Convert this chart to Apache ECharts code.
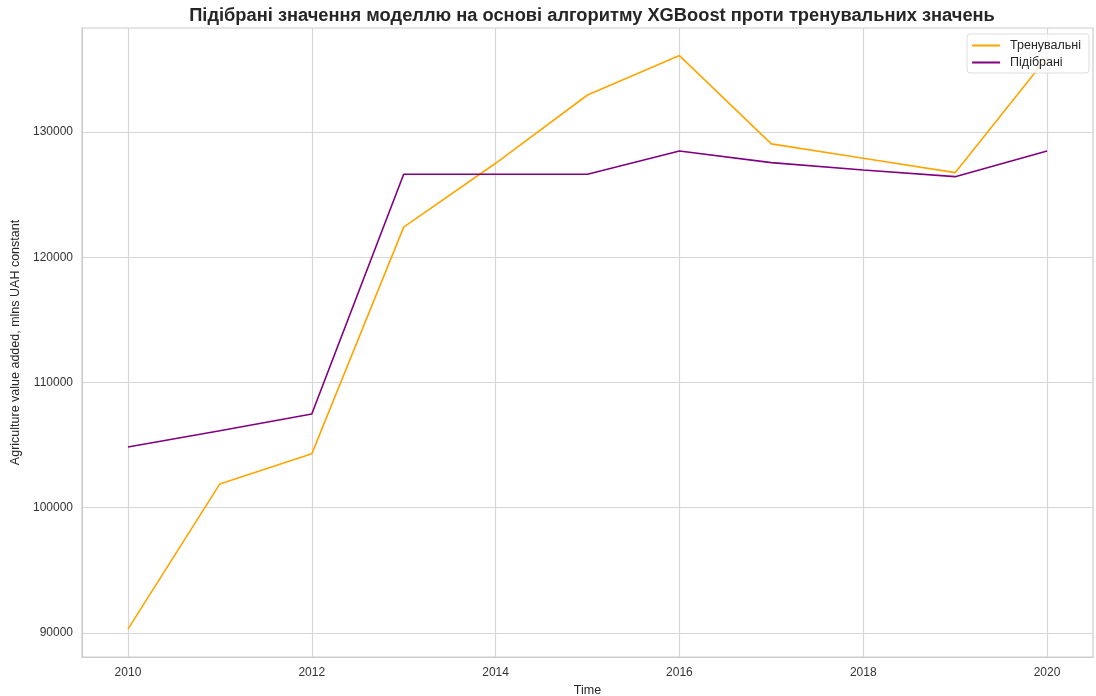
<!DOCTYPE html>
<html>
<head>
<meta charset="utf-8">
<script src="https://cdn.jsdelivr.net/npm/echarts@6/dist/echarts.min.js"></script>
<style>
  html, body { margin: 0; padding: 0; background: #fff; }
  #chart { width: 1096px; height: 696px; }
</style>
</head>
<body>
<div id="chart"></div>
<script>

// ---- data ----
var years = [2010, 2011, 2012, 2013, 2014, 2015, 2016, 2017, 2018, 2019, 2020];
var train_values = [90300, 101900, 104300, 122400, 127500, 132950, 136100, 129050, 127900, 126750, 135950];
var fitted_values = [104850, 106150, 107480, 126620, 126620, 126620, 128480, 127550, 126960, 126430, 128480];
var x_ticks = [2010, 2012, 2014, 2016, 2018, 2020];
var y_ticks = [90000, 100000, 110000, 120000, 130000];

var font = "Arial, 'Liberation Sans', sans-serif";

function pairs(vals) {
    var out = [];
    for (var i = 0; i < years.length; i++) {
        out.push([years[i], vals[i]]);
    }
    return out;
}

var chart = echarts.init(document.getElementById('chart'));

var option = {
    backgroundColor: '#ffffff',
    animation: false,
    title: {
        text: 'Підібрані значення моделлю на основі алгоритму XGBoost проти тренувальних значень',
        left: 587,
        textAlign: 'center',
        top: 2,
        textStyle: { fontFamily: font, fontSize: 18.3, fontWeight: 'bold', color: '#262626' }
    },
    legend: {
        orient: 'vertical',
        right: 7,
        top: 34,
        itemWidth: 28,
        itemHeight: 2,
        itemGap: 4,
        padding: [5, 8, 4, 5],
        backgroundColor: 'rgba(255,255,255,0.8)',
        borderColor: '#dddddd',
        borderWidth: 1,
        borderRadius: 3,
        icon: 'rect',
        textStyle: { fontFamily: font, fontSize: 12.5, color: '#262626', padding: [0, 0, 0, 5] },
        data: ['Тренувальні', 'Підібрані']
    },
    grid: { left: 82, right: 3, top: 28, bottom: 39, containLabel: false, outerBoundsMode: 'none' },
    xAxis: {
        type: 'value',
        min: 2009.5,
        max: 2020.5,
        name: 'Time',
        nameLocation: 'middle',
        nameGap: 27,
        nameTextStyle: { fontFamily: font, fontSize: 12.5, color: '#262626' },
        axisLine: { show: true, lineStyle: { color: '#cccccc', width: 1.2 } },
        axisTick: { show: false, customValues: x_ticks },
        axisLabel: { customValues: x_ticks, fontFamily: font, fontSize: 12, color: '#333333', margin: 10,
                     formatter: function (v) { return String(v); } },
        splitLine: { show: true, lineStyle: { color: '#d6d6d6', width: 1.2 } }
    },
    yAxis: {
        type: 'value',
        min: 88080,
        max: 138300,
        name: 'Agriculture value added, mlns UAH constant',
        nameLocation: 'middle',
        nameGap: 55,
        nameTextStyle: { fontFamily: font, fontSize: 12.5, color: '#262626' },
        axisLine: { show: true, lineStyle: { color: '#cccccc', width: 1.2 } },
        axisTick: { show: false, customValues: y_ticks },
        axisLabel: { customValues: y_ticks, fontFamily: font, fontSize: 12, color: '#333333', margin: 9,
                     formatter: function (v) { return String(v); } },
        splitLine: { show: true, lineStyle: { color: '#d6d6d6', width: 1.2 } }
    },
    series: [
        {
            name: 'Тренувальні',
            type: 'line',
            data: pairs(train_values),
            showSymbol: false,
            color: '#FFA500',
            lineStyle: { width: 1.6, color: '#FFA500' }
        },
        {
            name: 'Підібрані',
            type: 'line',
            data: pairs(fitted_values),
            showSymbol: false,
            color: '#800080',
            lineStyle: { width: 1.6, color: '#800080' }
        }
    ]
};

chart.setOption(option);

// frame on the top and right like the matplotlib axes box
var w = chart.getWidth();
chart.setOption({
    graphic: [{
        type: 'rect',
        silent: true,
        z: -1,
        shape: { x: 82, y: 28, width: w - 82 - 3, height: 696 - 28 - 39 },
        style: { fill: 'none', stroke: '#cccccc', lineWidth: 1.2 }
    }]
});

</script>
</body>
</html>
